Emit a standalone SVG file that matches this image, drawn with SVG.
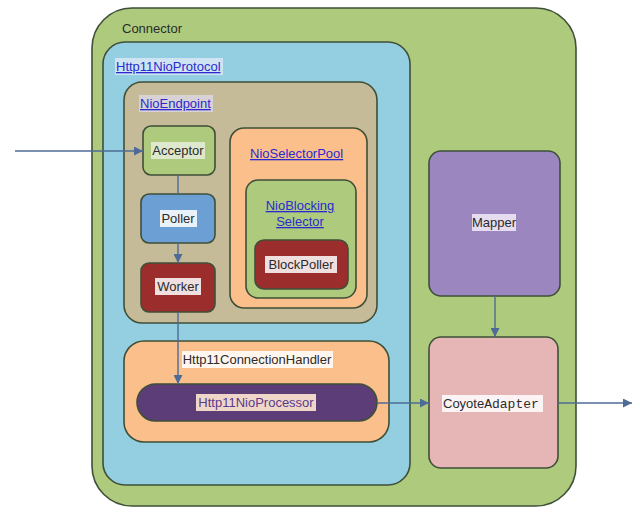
<svg xmlns="http://www.w3.org/2000/svg" width="640" height="520" viewBox="0 0 640 520">
<defs>
<marker id="arr" viewBox="0 0 10 10" refX="10" refY="5" markerWidth="9" markerHeight="9" markerUnits="userSpaceOnUse" orient="auto">
<path d="M0,0 L10,5 L0,10 z" fill="#4d6b96"/>
</marker>
<style>
.box{stroke:#3f4f38;stroke-width:1.6}
.t{font-family:"Liberation Sans",Arial,sans-serif;font-size:13px;fill:#2b2b2b;text-anchor:middle}
.lk{font-family:"Liberation Sans",Arial,sans-serif;font-size:13px;fill:#2a2ad0;text-decoration:underline}
.hl{fill:#ffffff;opacity:0.85}
.ln{stroke:#4d6b96;stroke-width:1.4;fill:none}
</style>
</defs>
<rect width="640" height="520" fill="#ffffff"/>
<g id="connector">
<rect class="box" x="92" y="8" width="484" height="498" rx="40" fill="#aecb7d"/>
<text x="122" y="33" class="t" style="text-anchor:start">Connector</text>
</g>
<g id="http11nioprotocol">
<rect class="box" x="103" y="42" width="307" height="443" rx="22" fill="#93cfe0"/>
<rect x="115" y="58" width="108" height="17" fill="#dfe8f6" opacity="0.8"/>
<text x="116" y="71" class="lk">Http11NioProtocol</text>
</g>
<g id="nioendpoint">
<rect class="box" x="124" y="82" width="253" height="241" rx="18" fill="#c6bb98"/>
<rect x="139" y="95" width="74" height="17" fill="#dcd8e6" opacity="0.8"/>
<text x="140" y="108" class="lk">NioEndpoint</text>
</g>
<g id="acceptor">
<rect class="box" x="143" y="126" width="72" height="49" rx="8" fill="#aecb7d"/>
<rect x="151" y="142" width="54" height="17" fill="#dde8cc"/>
<text x="178" y="155" class="t">Acceptor</text>
</g>
<g id="poller">
<rect class="box" x="141" y="194" width="74" height="49" rx="8" fill="#6c9fd4"/>
<rect x="160" y="210" width="37" height="17" class="hl"/>
<text x="178" y="223" class="t">Poller</text>
</g>
<g id="worker">
<rect class="box" x="141" y="263" width="74" height="49" rx="8" fill="#9b2d2d"/>
<rect x="155" y="278" width="46" height="17" class="hl"/>
<text x="178" y="291" class="t">Worker</text>
</g>
<g id="nioselectorpool">
<rect class="box" x="230" y="128" width="137" height="180" rx="14" fill="#fbbf8b"/>
<text x="250" y="158" class="lk">NioSelectorPool</text>
</g>
<g id="nioblockingselector">
<rect class="box" x="246" y="180" width="110" height="118" rx="12" fill="#aecb7d"/>
<text x="300" y="210" class="lk" style="text-anchor:middle">NioBlocking</text>
<text x="300" y="226" class="lk" style="text-anchor:middle">Selector</text>
</g>
<g id="blockpoller">
<rect class="box" x="255" y="240" width="93" height="49" rx="9" fill="#9b2d2d"/>
<rect x="265" y="256" width="72" height="17" class="hl"/>
<text x="301" y="269" class="t">BlockPoller</text>
</g>
<g id="mapper">
<rect class="box" x="429" y="151" width="131" height="145" rx="12" fill="#9b86c0"/>
<rect x="472" y="214" width="44" height="17" fill="#e6dcef"/>
<text x="494" y="227" class="t">Mapper</text>
</g>
<g id="http11connectionhandler">
<rect class="box" x="124" y="341" width="265" height="101" rx="20" fill="#fbbf8b"/>
<rect x="182" y="351" width="151" height="17" class="hl"/>
<text x="257" y="364" class="t">Http11ConnectionHandler</text>
</g>
<g id="http11nioprocessor">
<rect class="box" x="137" y="384" width="240" height="37" rx="18.5" fill="#5c3d78"/>
<rect x="196" y="394" width="120" height="17" fill="#efd6c8"/>
<text x="256" y="407" class="t" style="fill:#5a3a8c">Http11NioProcessor</text>
</g>
<g id="coyoteadapter">
<rect class="box" x="429" y="337" width="129" height="131" rx="12" fill="#e6b6b6"/>
<rect x="442" y="395" width="101" height="17" class="hl"/>
<text x="443" y="408" class="t" style="text-anchor:start">Coyote<tspan style="font-family:'Liberation Mono','Courier New',monospace;font-size:13px">Adapter</tspan></text>
</g>
<g id="connectors">
<line class="ln" x1="15" y1="151" x2="143" y2="151" marker-end="url(#arr)"/>
<line class="ln" x1="178" y1="175" x2="178" y2="194"/>
<line class="ln" x1="178" y1="243" x2="178" y2="263" marker-end="url(#arr)"/>
<line class="ln" x1="178" y1="312" x2="178" y2="384" marker-end="url(#arr)"/>
<line class="ln" x1="377" y1="403" x2="429" y2="403" marker-end="url(#arr)"/>
<line class="ln" x1="495" y1="296" x2="495" y2="337" marker-end="url(#arr)"/>
<line class="ln" x1="558" y1="403" x2="632" y2="403" marker-end="url(#arr)"/>
</g>
</svg>
